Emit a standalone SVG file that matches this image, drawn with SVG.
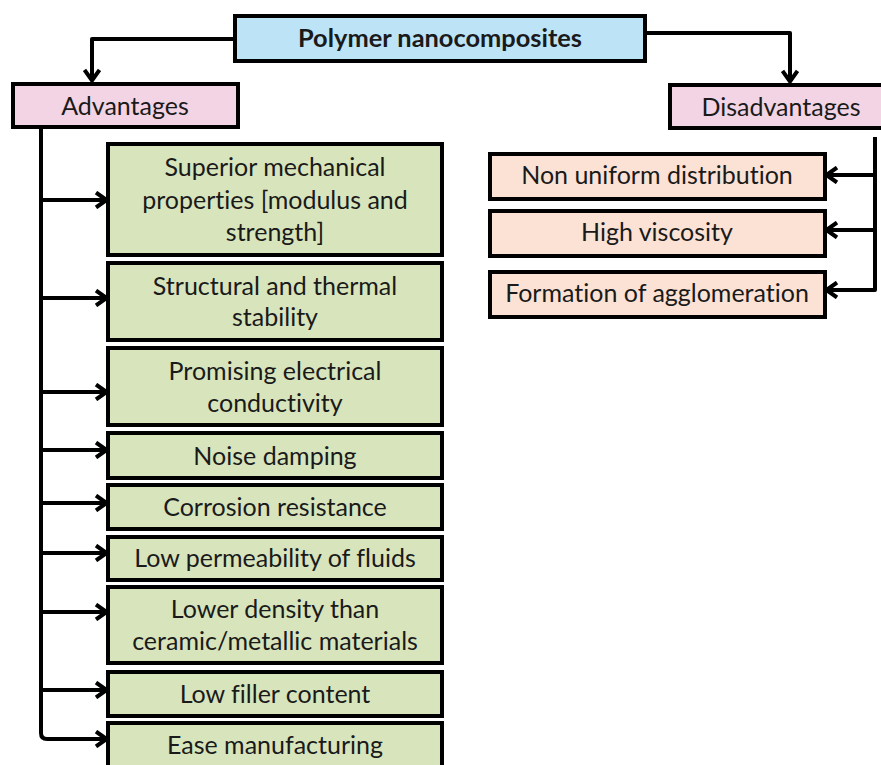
<svg xmlns="http://www.w3.org/2000/svg" width="881" height="765" viewBox="0 0 881 765">
<defs>
<style>
.box{stroke:#000;stroke-width:4}
.top{fill:#bde3f7}
.hdr{fill:#f2d4e4}
.adv{fill:#d8e4bc}
.dis{fill:#fbe2d4}
text{font-family:Lato,"Open Sans","Liberation Sans",sans-serif;font-size:25px;fill:#1a1a1a;text-anchor:middle;font-variant-ligatures:none}
.b{font-weight:bold;font-size:24px}
.conn{fill:none;stroke:#000;stroke-width:4;stroke-linejoin:round}
</style>
<marker id="ah" viewBox="0 0 14 18" refX="13" refY="9" markerWidth="14" markerHeight="18" markerUnits="userSpaceOnUse" orient="auto">
<polyline points="2,1.5 12.5,9 2,16.5" fill="none" stroke="#000" stroke-width="4"/>
</marker>
</defs>
<rect width="881" height="765" fill="#fff"/>
<g id="connectors">
<path class="conn" d="M235,39 H92 V81" marker-end="url(#ah)"/>
<path class="conn" d="M645,33 H790 V82" marker-end="url(#ah)"/>
<path class="conn" d="M41,127 V733 Q41,739 47,739 H107" marker-end="url(#ah)"/>
<path class="conn" d="M41,200 H107" marker-end="url(#ah)"/>
<path class="conn" d="M41,298 H107" marker-end="url(#ah)"/>
<path class="conn" d="M41,392 H107" marker-end="url(#ah)"/>
<path class="conn" d="M41,450 H107" marker-end="url(#ah)"/>
<path class="conn" d="M41,503 H107" marker-end="url(#ah)"/>
<path class="conn" d="M41,553 H107" marker-end="url(#ah)"/>
<path class="conn" d="M41,612 H107" marker-end="url(#ah)"/>
<path class="conn" d="M41,690 H107" marker-end="url(#ah)"/>
<path class="conn" d="M875,137 V290 H826" marker-end="url(#ah)"/>
<path class="conn" d="M875,175 H826" marker-end="url(#ah)"/>
<path class="conn" d="M875,230 H826" marker-end="url(#ah)"/>
</g>
<g id="root"><rect class="box top" x="235" y="16" width="410" height="45"/><text class="b" x="440" y="47" textLength="284" lengthAdjust="spacingAndGlyphs">Polymer nanocomposites</text></g>
<g id="advantages"><rect class="box hdr" x="13" y="84" width="225" height="43"/><text x="125" y="115">Advantages</text></g>
<g id="disadvantages"><rect class="box hdr" x="670" y="85" width="225" height="43"/><text x="781" y="116">Disadvantages</text></g>
<g id="a1"><rect class="box adv" x="108" y="144" width="334" height="111"/><text x="275" y="176">Superior mechanical</text><text x="275" y="209">properties [modulus and</text><text x="275" y="241">strength]</text></g>
<g id="a2"><rect class="box adv" x="108" y="263" width="334" height="77"/><text x="275" y="295">Structural and thermal</text><text x="275" y="326">stability</text></g>
<g id="a3"><rect class="box adv" x="108" y="348" width="334" height="77"/><text x="275" y="380">Promising electrical</text><text x="275" y="412">conductivity</text></g>
<g id="a4"><rect class="box adv" x="108" y="433" width="334" height="45"/><text x="275" y="465">Noise damping</text></g>
<g id="a5"><rect class="box adv" x="108" y="485" width="334" height="44"/><text x="275" y="516">Corrosion resistance</text></g>
<g id="a6"><rect class="box adv" x="108" y="537" width="334" height="43"/><text x="275" y="567">Low permeability of fluids</text></g>
<g id="a7"><rect class="box adv" x="108" y="587" width="334" height="76"/><text x="275" y="618">Lower density than</text><text x="275" y="650">ceramic/metallic materials</text></g>
<g id="a8"><rect class="box adv" x="108" y="672" width="334" height="44"/><text x="275" y="703">Low filler content</text></g>
<g id="a9"><rect class="box adv" x="108" y="723" width="334" height="50"/><text x="275" y="754">Ease manufacturing</text></g>
<g id="d1"><rect class="box dis" x="490" y="154" width="335" height="45"/><text x="657" y="184">Non uniform distribution</text></g>
<g id="d2"><rect class="box dis" x="490" y="211" width="335" height="45"/><text x="657" y="241">High viscosity</text></g>
<g id="d3"><rect class="box dis" x="490" y="272" width="335" height="45"/><text x="657" y="302">Formation of agglomeration</text></g>
</svg>
